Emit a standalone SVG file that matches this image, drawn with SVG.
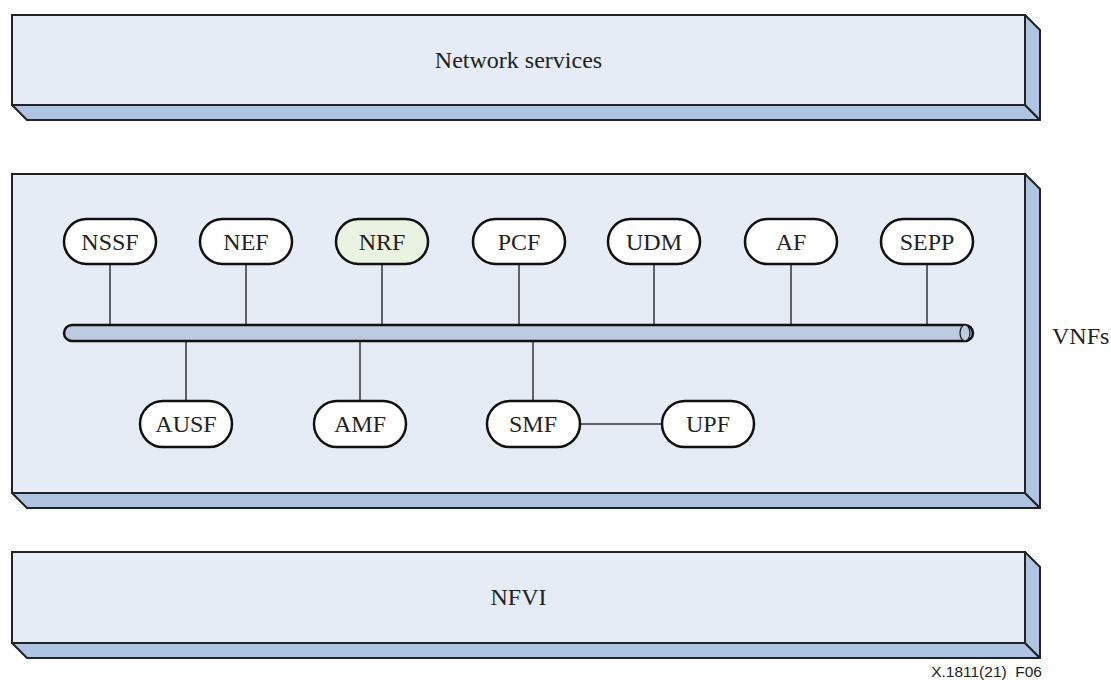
<svg xmlns="http://www.w3.org/2000/svg" width="1111" height="680" viewBox="0 0 1111 680">
  <style>
    .face { fill: #E5ECF6; stroke: #222; stroke-width: 2; }
    .side { fill: #AFC4E3; stroke: #222; stroke-width: 2; stroke-linejoin: round; }
    .pill { fill: #FFFFFF; stroke: #111; stroke-width: 2.5; }
    .pill.green { fill: #EAF3E2; }
    .lbl { font-family: "Liberation Serif", "Times New Roman", serif; font-size: 24px; fill: #222; text-anchor: middle; }
    .conn { stroke: #333; stroke-width: 1.5; fill: none; }
    .bus { fill: #BCCBE0; stroke: #111; stroke-width: 2.5; }
    .note { font-family: "Liberation Sans", Arial, sans-serif; font-size: 15.5px; fill: #222; text-anchor: end; white-space: pre; }
  </style>

  <!-- Layer: network services -->
  <g id="network-services">
    <polygon class="side" points="12,105 1025,105 1040,120 27,120"/>
    <polygon class="side" points="1025,15 1040,30 1040,120 1025,105"/>
    <rect class="face" x="12" y="15" width="1013" height="90"/>
    <text class="lbl" x="518.5" y="68">Network services</text>
  </g>

  <!-- Layer: VNFs -->
  <g id="vnfs">
    <polygon class="side" points="12,493 1025,493 1040,508 27,508"/>
    <polygon class="side" points="1025,174 1040,189 1040,508 1025,493"/>
    <rect class="face" x="12" y="174" width="1013" height="319"/>
    <text class="lbl" x="1052" y="344" style="text-anchor:start">VNFs</text>
  </g>

  <!-- Layer: NFVI -->
  <g id="nfvi">
    <polygon class="side" points="12,643 1025,643 1040,658 27,658"/>
    <polygon class="side" points="1025,552 1040,567 1040,658 1025,643"/>
    <rect class="face" x="12" y="552" width="1013" height="91"/>
    <text class="lbl" x="518.5" y="605">NFVI</text>
  </g>

  <!-- Connectors: drops to the service bus and SMF-UPF link -->
  <g id="connectors">
    <line class="conn" x1="110" y1="264" x2="110" y2="325"/>
    <line class="conn" x1="246" y1="264" x2="246" y2="325"/>
    <line class="conn" x1="382" y1="264" x2="382" y2="325"/>
    <line class="conn" x1="519" y1="264" x2="519" y2="325"/>
    <line class="conn" x1="654" y1="264" x2="654" y2="325"/>
    <line class="conn" x1="791" y1="264" x2="791" y2="325"/>
    <line class="conn" x1="927" y1="264" x2="927" y2="325"/>
    <line class="conn" x1="186" y1="341" x2="186" y2="401"/>
    <line class="conn" x1="360" y1="341" x2="360" y2="401"/>
    <line class="conn" x1="533" y1="341" x2="533" y2="401"/>
    <line class="conn" x1="580" y1="424" x2="662" y2="424"/>
  </g>

  <!-- Service-based interface bus -->
  <g id="bus">
    <rect class="bus" x="64" y="325" width="909" height="16" rx="8"/>
    <ellipse cx="965" cy="333" rx="5" ry="8" fill="#BCCBE0" stroke="#111" stroke-width="1.2"/>
  </g>

  <!-- Network functions, upper row -->
  <g id="nssf"><rect class="pill" x="64" y="219" width="92" height="45" rx="22.5"/><text class="lbl" x="110" y="250">NSSF</text></g>
  <g id="nef"><rect class="pill" x="200" y="219" width="92" height="45" rx="22.5"/><text class="lbl" x="246" y="250">NEF</text></g>
  <g id="nrf"><rect class="pill green" x="336" y="219" width="92" height="45" rx="22.5"/><text class="lbl" x="382" y="250">NRF</text></g>
  <g id="pcf"><rect class="pill" x="473" y="219" width="92" height="45" rx="22.5"/><text class="lbl" x="519" y="250">PCF</text></g>
  <g id="udm"><rect class="pill" x="608" y="219" width="92" height="45" rx="22.5"/><text class="lbl" x="654" y="250">UDM</text></g>
  <g id="af"><rect class="pill" x="745" y="219" width="92" height="45" rx="22.5"/><text class="lbl" x="791" y="250">AF</text></g>
  <g id="sepp"><rect class="pill" x="881" y="219" width="92" height="45" rx="22.5"/><text class="lbl" x="927" y="250">SEPP</text></g>

  <!-- Network functions, lower row -->
  <g id="ausf"><rect class="pill" x="140" y="401" width="92" height="46" rx="23"/><text class="lbl" x="186" y="432">AUSF</text></g>
  <g id="amf"><rect class="pill" x="314" y="401" width="92" height="46" rx="23"/><text class="lbl" x="360" y="432">AMF</text></g>
  <g id="smf"><rect class="pill" x="487" y="401" width="93" height="46" rx="23"/><text class="lbl" x="533" y="432">SMF</text></g>
  <g id="upf"><rect class="pill" x="662" y="401" width="92" height="46" rx="23"/><text class="lbl" x="708" y="432">UPF</text></g>

  <text class="note" x="1042" y="677" xml:space="preserve">X.1811(21)  F06</text>
</svg>
